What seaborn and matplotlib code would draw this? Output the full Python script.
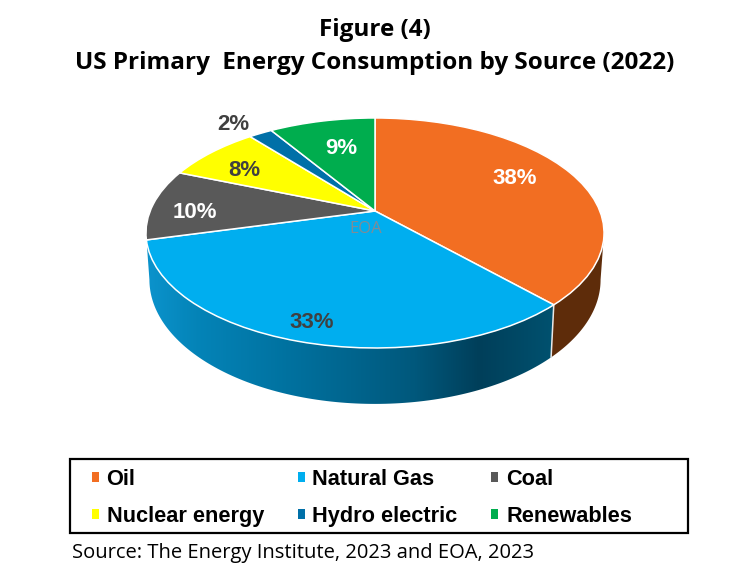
#!/usr/bin/env python3
"""Figure (4): tilted 3-D style pie of US primary energy consumption, 2022."""

import matplotlib
matplotlib.use("Agg")
import matplotlib.pyplot as plt
import matplotlib.transforms as mtransforms
import numpy as np
import seaborn as sns
from matplotlib.colors import LinearSegmentedColormap
from matplotlib.patches import Patch, Polygon, Rectangle

sources = ["Oil", "Natural Gas", "Coal", "Nuclear energy", "Hydro electric", "Renewables"]
shares = [38, 33, 10, 8, 2, 9]
colors = ["#F26E22", "#00AEEF", "#595959", "#FFFF00", "#0070A8", "#00AD4E"]
label_colors = ["white", "#404040", "white", "#404040", "#404040", "white"]
# legend fills the rows across, matplotlib fills columns - so reorder
legend_order = [0, 3, 1, 4, 2, 5]

# label centres in pixels of the 750x580 canvas
LABEL_XY = [(515, 179), (312, 323), (195, 212), (244, 171), (233, 124), (341, 148)]


class TiltTransform(mtransforms.Transform):
    """Perspective view of the unit disc, output in canvas pixels."""
    input_dims = output_dims = 2

    def __init__(self, sx=1.0, sy=1.0, drop=0.0):
        super().__init__()
        self.sx, self.sy, self.drop = sx, sy, drop

    def transform_non_affine(self, values):
        x, y = np.asarray(values).T
        w = 1 + 0.191 * y
        return np.column_stack([375 + self.sx * 224.8 * x / w,
                                211 - self.sy * 110.8 * y / w + self.drop])


sns.set_theme(style="white")
plt.rcParams["font.family"] = ["Liberation Sans", "DejaVu Sans"]

fig = plt.figure(figsize=(7.5, 5.8), dpi=100, facecolor="white")
ax = fig.add_axes([0, 0, 1, 1])

wedges, _ = ax.pie(shares, colors=colors, startangle=90, counterclock=False,
                   wedgeprops=dict(edgecolor="white", linewidth=1.1, zorder=3))
top = TiltTransform()
bottom = TiltTransform(sx=0.985, sy=1.08, drop=45)
for w in wedges:
    w.set_transform(top + ax.transData)


def wall_outline(a0, a1):
    # angles clockwise from 12 o'clock, in degrees
    t = np.radians(np.linspace(a0, a1, 120))
    ring = np.column_stack([np.sin(t), np.cos(t)])
    return np.vstack([top.transform(ring), bottom.transform(ring)[::-1]])


seam = shares[0] / sum(shares) * 360
blue_wall = Polygon(wall_outline(seam, 259), closed=True, transform=ax.transData,
                    facecolor="none", edgecolor="none")
ax.add_patch(blue_wall)
cmap = LinearSegmentedColormap.from_list(
    "wall", [(0.0, "#0B93CC"), (0.12, "#0484B8"), (0.38, "#006F9C"),
             (0.66, "#00587C"), (0.82, "#003F5A"), (1.0, "#00516F")])
im = ax.imshow(np.linspace(0, 1, 256)[None, :], cmap=cmap, aspect="auto",
               extent=(147, 553, 410, 230), zorder=1)
im.set_clip_path(blue_wall)
ax.add_patch(Polygon(wall_outline(101, seam), closed=True, facecolor="#5E2C0A",
                     edgecolor="none", zorder=1))
# thin light seam between the two walls
t0 = np.radians(seam)
p = np.array([[np.sin(t0), np.cos(t0)]])
ax.plot([top.transform(p)[0, 0], bottom.transform(p)[0, 0]],
        [top.transform(p)[0, 1], bottom.transform(p)[0, 1]],
        color="#E8E8E8", lw=1.1, zorder=2)

ax.set_aspect("auto")
ax.set_xlim(0, 750)
ax.set_ylim(580, 0)
ax.axis("off")

for (x, y), share, c in zip(LABEL_XY, shares, label_colors):
    ax.text(x, y, f"{share}%", color=c, fontsize=16, fontweight="bold",
            ha="center", va="center", zorder=5)
ax.text(366, 229, "EOA", color="#7F8C96", fontsize=12, family=["Open Sans"],
        ha="center", va="center", zorder=5)

ax.text(375, 30, "Figure (4)", fontsize=17.5, fontweight="bold", family=["Open Sans"],
        color="black", ha="center", va="center")
ax.text(375, 63, "US Primary  Energy Consumption by Source (2022)", fontsize=17.5,
        fontweight="bold", family=["Open Sans"], color="black", ha="center", va="center")
ax.text(72, 553, "Source: The Energy Institute, 2023 and EOA, 2023", fontsize=14.5,
        family=["Open Sans"], color="black", ha="left", va="center")

# frame drawn by hand, it is wider than the legend entries need
ax.add_patch(Rectangle((70, 459), 618, 74, facecolor="white", edgecolor="black",
                       linewidth=1.6, zorder=4))
handles = [Patch(facecolor=colors[i], edgecolor="none") for i in legend_order]
leg = ax.legend(handles, [sources[i] for i in legend_order], ncol=3,
                loc="upper left", bbox_to_anchor=(92 / 750, 1 - 469 / 580),
                bbox_transform=fig.transFigure, borderaxespad=0, frameon=False,
                labelcolor="black",
                prop=dict(family="Liberation Sans", weight="bold", size=15.7),
                handlelength=0.31, handleheight=0.31, handletextpad=0.36,
                columnspacing=1.55, labelspacing=0.72, borderpad=0)
leg.set_zorder(6)

fig.savefig("out.png", dpi=100)
